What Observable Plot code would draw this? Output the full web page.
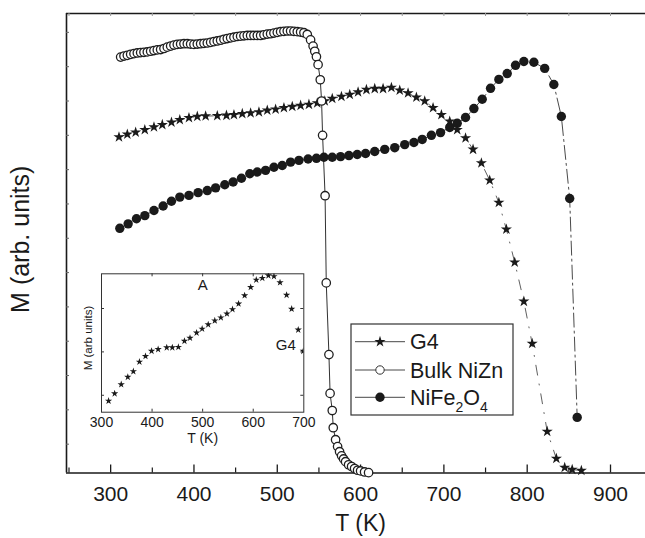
<!DOCTYPE html>
<html><head><meta charset="utf-8">
<script src="https://cdn.jsdelivr.net/npm/d3@7"></script>
<script src="https://cdn.jsdelivr.net/npm/@observablehq/plot@0.6"></script>
<style>
body{margin:0;background:#fff;}
#wrap{position:relative;width:645px;height:538px;font-family:"Liberation Sans",Arial,sans-serif;overflow:hidden;}
#wrap svg{position:absolute;left:0;top:0;}
</style></head><body><div id="wrap"></div>
<script>
// ---------- data ----------
const g4T = [310,320,330,341,352,362,373,383,394,404,414,428,439,448,458,468,478,488,498,508,518,528,538,548,557,566,577,587,597,607,617,627,637,647,657,667,677,687,697,707,716,726,735,745,755,766,775,785,796,806,824,835,845,854,865];
const g4M = [9.95,10.03,10.09,10.16,10.24,10.31,10.38,10.45,10.51,10.55,10.56,10.57,10.58,10.60,10.63,10.65,10.68,10.73,10.76,10.80,10.84,10.87,10.90,10.94,11.00,11.07,11.13,11.19,11.26,11.33,11.36,11.36,11.39,11.31,11.23,11.11,11.00,10.80,10.60,10.41,10.16,9.92,9.59,9.19,8.69,8.04,7.26,6.30,5.16,3.93,1.37,0.58,0.32,0.26,0.23];

const bulkT = [312,316,320,324,328,332,336,340,344,348,352,356,360,364,368,372,376,380,384,388,392,396,400,404,408,412,416,420,424,428,432,436,440,444,448,452,456,460,464,468,472,476,480,484,488,492,496,500,504,508,512,516,520,524,528,532,536,540,543,545,547,549,551.6,553.2,554.4,557.4,558.8,562,563.4,566,567.2,570,572.4,574.8,577.2,579.6,582,585.6,589.2,592.8,596.4,600,604.8,609.6];
const bulkM = [12.28,12.31,12.33,12.36,12.38,12.40,12.41,12.42,12.43,12.45,12.47,12.49,12.50,12.53,12.57,12.60,12.63,12.65,12.66,12.67,12.67,12.66,12.65,12.66,12.67,12.68,12.69,12.71,12.73,12.75,12.77,12.80,12.82,12.84,12.86,12.88,12.89,12.90,12.91,12.91,12.91,12.91,12.91,12.93,12.95,12.96,12.98,13.00,13.02,13.03,13.04,13.04,13.03,13.02,13.01,12.99,12.94,12.78,12.60,12.45,12.29,12.06,11.62,11.00,10.00,8.24,5.70,3.61,2.48,1.98,1.48,1.13,0.93,0.78,0.66,0.57,0.49,0.40,0.35,0.29,0.24,0.22,0.19,0.17];

const nifeT = [311,321,331,341,352,363,373,383,394,405,416,426,437,447,457,467,476,486,496,506,516,526,537,547,556,566,576,586,596,606,617,629,641,653,664,674,685,696,707,716,726,736,746,756,766,776,786,796,808,821,832,841,851,860];
const nifeM = [7.29,7.42,7.57,7.66,7.81,7.94,8.08,8.20,8.25,8.33,8.39,8.47,8.56,8.64,8.75,8.88,8.93,8.98,9.07,9.12,9.22,9.27,9.31,9.33,9.36,9.36,9.38,9.41,9.44,9.47,9.53,9.59,9.64,9.73,9.79,9.88,10.00,10.08,10.23,10.35,10.52,10.78,11.05,11.37,11.63,11.80,12.04,12.15,12.13,11.95,11.48,10.55,8.16,1.78];

// inset (panel A, G4)
const insetT = [314,326,339,352,363,375,387,399,412,429,440,452,464,475,488,499,511,524,536,548,559,571,583,595,606,618,630,641,653,666,676,689,699];
const insetM = [0.87,1.04,1.25,1.42,1.55,1.77,1.90,2.02,2.06,2.10,2.10,2.11,2.25,2.32,2.44,2.53,2.63,2.72,2.79,2.88,2.98,3.11,3.30,3.49,3.66,3.70,3.76,3.74,3.60,3.31,2.99,2.51,2.02];

const xMajor = [300,400,500,600,700,800,900];
const xMinor = [250,350,450,550,650,750,850];
const xTop = [250,300,350,400,450,500,550,600,650,700,750,800,850,900];
const yTicks = [1,2,3,4,5,6,7,8,9,10,11,12,13];
const insetXLabels = [300,400,500,600,700];
const insetXTicks = [400,500,600];
const insetYTicks = [1,2,3];

const seriesNames = ["G4","Bulk NiZn","NiFe2O4"];

// ---------- tables ----------
const g4 = g4T.map((t,i)=>({T:t,M:g4M[i]}));
const bulk = bulkT.map((t,i)=>({T:t,M:bulkM[i]}));
const nife = nifeT.map((t,i)=>({T:t,M:nifeM[i]}));
const inset = insetT.map((t,i)=>({T:t,M:insetM[i]}));

const FONT = "Liberation Sans, Arial, Helvetica, sans-serif";
const INK = "#1a1a1a";
const W = 645, H = 538;
const mL = 66, mT = 13, mB = 65.5, mR = 0;
const fw = W - mL - mR, fh = H - mT - mB;

const main = Plot.plot({
  width: W, height: H, marginLeft: mL, marginRight: mR, marginTop: mT, marginBottom: mB,
  style: {fontFamily: FONT, background: "transparent", color: INK, overflow: "visible"},
  x: {domain: [247, 942]},
  y: {domain: [0.16, 13.55]},
  marks: [
    Plot.axisX({ticks: xMajor, tickSize: 0, tickPadding: 13, fontSize: 21, label: null, fill: INK}),
    Plot.axisY({ticks: [], label: null}),
    Plot.text(["T (K)"], {frameAnchor: "bottom", x: () => 600, dy: 58, fontSize: 23, fill: INK}),
    Plot.text(["M (arb. units)"], {frameAnchor: "left", textAnchor: "middle", dx: -46, dy: -4, rotate: -90, fontSize: 25, fill: INK}),
    // frame (left, top, bottom)
    Plot.ruleX([247], {stroke: INK, strokeWidth: 1.6}),
    Plot.ruleY([13.55], {stroke: INK, strokeWidth: 1.6}),
    Plot.ruleY([0.16], {stroke: INK, strokeWidth: 1.6}),
    // ticks
    Plot.tickX(xMajor, {x: d => d, insetTop: fh - 8, stroke: INK, strokeWidth: 1.3}),
    Plot.tickX(xMinor, {x: d => d, insetTop: fh - 5, stroke: INK, strokeWidth: 1.2}),
    Plot.tickX(xTop, {x: d => d, insetBottom: fh - 3, stroke: "#999", strokeWidth: 1}),
    Plot.tickY(yTicks, {y: d => d, insetRight: fw - 3, stroke: "#666", strokeWidth: 1}),
    // lines
    Plot.line(nife, {x: "T", y: "M", stroke: INK, strokeWidth: 0.8, strokeDasharray: "14,4,2,4"}),
    Plot.line(g4, {x: "T", y: "M", stroke: INK, strokeWidth: 0.7, strokeDasharray: "10,9,1,9"}),
    Plot.line(bulk, {x: "T", y: "M", stroke: INK, strokeWidth: 0.9}),
    // markers
    Plot.dot(nife, {x: "T", y: "M", r: 4.7, fill: INK, stroke: "none"}),
    Plot.dot(g4, {x: "T", y: "M", symbol: "star", r: 3.5, fill: INK, stroke: "none"}),
    Plot.dot(bulk, {x: "T", y: "M", r: 4.2, fill: "white", stroke: "#1f1f1f", strokeWidth: 1.3})
  ]
});

// inset plot
const iL = 101, iT = 273.3, iR = 303.3, iB = 411.7;
const ifw = iR - iL, ifh = iB - iT;
const insetPlot = Plot.plot({
  width: W, height: H, marginLeft: iL, marginRight: W - iR, marginTop: iT, marginBottom: H - iB,
  style: {fontFamily: FONT, background: "transparent", color: INK, overflow: "visible"},
  x: {domain: [300, 700]},
  y: {domain: [0.61, 3.80]},
  marks: [
    Plot.frame({stroke: "#333", strokeWidth: 1}),
    Plot.axisX({ticks: insetXLabels, tickSize: 0, tickPadding: 5, fontSize: 14, label: null, fill: INK}),
    Plot.axisY({ticks: [], label: null}),
    Plot.tickX(insetXTicks, {x: d => d, insetTop: ifh - 3, stroke: "#333"}),
    Plot.tickX(insetXTicks, {x: d => d, insetBottom: ifh - 3, stroke: "#333"}),
    Plot.tickY(insetYTicks, {y: d => d, insetRight: ifw - 3, stroke: "#333"}),
    Plot.tickY(insetYTicks, {y: d => d, insetLeft: ifw - 3, stroke: "#333"}),
    Plot.text(["T (K)"], {frameAnchor: "bottom", dy: 31, fontSize: 14, fill: INK}),
    Plot.text(["M (arb units)"], {frameAnchor: "left", textAnchor: "middle", dx: -13, dy: -5, rotate: -90, fontSize: 11.5, fill: INK}),
    Plot.text(["A"], {frameAnchor: "top", dy: 6, fontSize: 15, fill: INK}),
    Plot.text(["G4"], {frameAnchor: "right", textAnchor: "middle", dx: -18, dy: 2, fontSize: 15, fill: INK}),
    Plot.dot(inset, {x: "T", y: "M", symbol: "star", r: 2.3, fill: INK, stroke: "none", clip: true})
  ]
});

const wrap = document.getElementById("wrap");
wrap.appendChild(main);
wrap.appendChild(insetPlot);

// legend
const leg = d3.create("svg").attr("width", W).attr("height", H)
  .style("font-family", FONT);
const lx = 351, ly = 324, lw = 162, lh = 91;
leg.append("rect").attr("x", lx).attr("y", ly).attr("width", lw).attr("height", lh)
  .attr("fill", "white").attr("stroke", "#333").attr("stroke-width", 1.2);
const rows = [341.7, 370, 397.3];
const symbols = [d3.symbolStar, d3.symbolCircle, d3.symbolCircle];
const sizes = [Math.PI * 3.5 * 3.5, Math.PI * 4.2 * 4.2, Math.PI * 4.7 * 4.7];
const fills = [INK, "white", INK];
const strokes = ["none", "#333", "none"];
seriesNames.forEach((name, i) => {
  const y = rows[i];
  leg.append("line").attr("x1", 355).attr("x2", 405).attr("y1", y).attr("y2", y)
    .attr("stroke", "#333").attr("stroke-width", 0.9);
  leg.append("path").attr("d", d3.symbol(symbols[i], sizes[i])())
    .attr("transform", `translate(380,${y})`).attr("fill", fills[i]).attr("stroke", strokes[i]);
  const t = leg.append("text").attr("x", 410).attr("y", y).attr("dy", "0.36em")
    .attr("font-size", 21.5).attr("fill", INK);
  if (name === "NiFe2O4") {
    t.append("tspan").text("NiFe");
    t.append("tspan").text("2").attr("font-size", 14).attr("dy", 7);
    t.append("tspan").text("O").attr("dy", -7);
    t.append("tspan").text("4").attr("font-size", 14).attr("dy", 7);
  } else t.text(name);
});
wrap.appendChild(leg.node());
</script></body></html>
